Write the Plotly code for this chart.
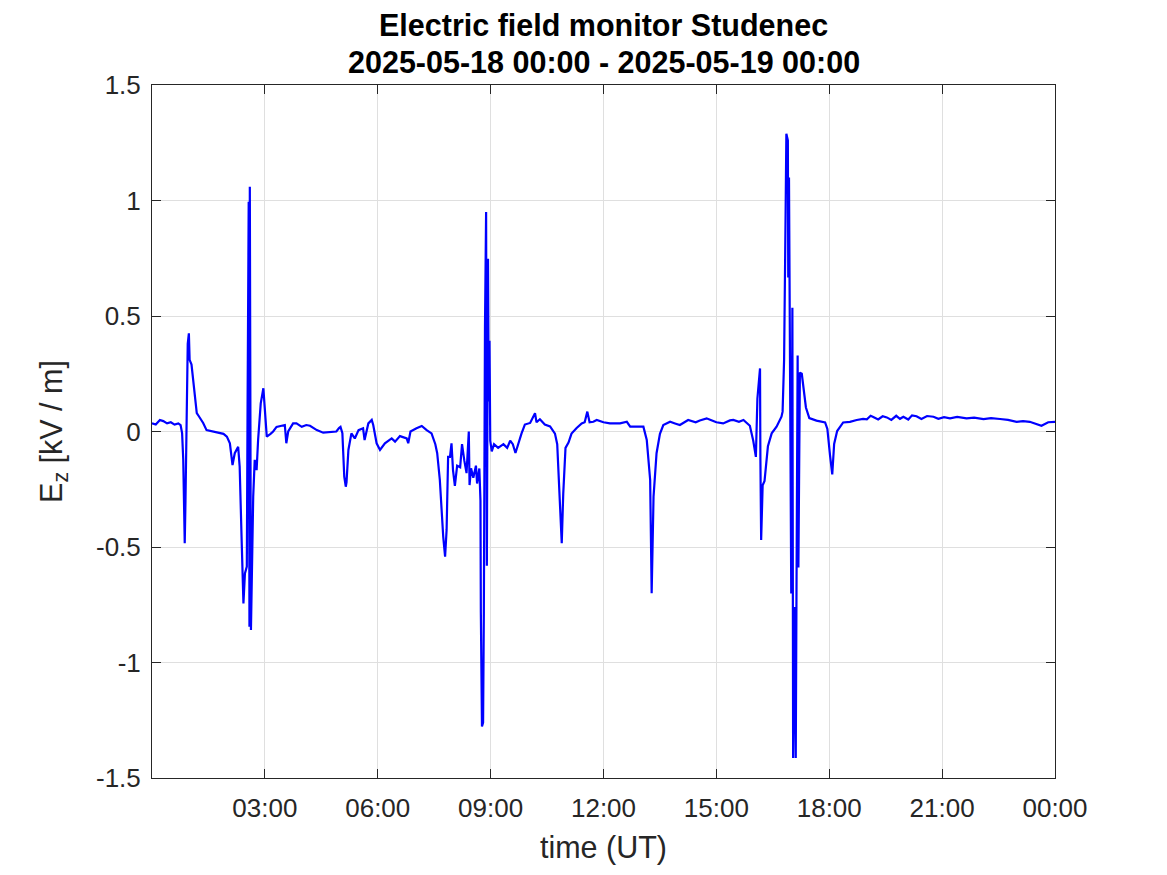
import pandas as pd
import plotly.graph_objects as go

# time since 2025-05-18 00:00 UT, hours
hours = [
    0.00, 0.10, 0.21, 0.30, 0.40, 0.50, 0.60, 0.70, 0.76, 0.80, 0.83, 0.87, 0.89, 0.92, 0.95, 0.98,
    1.00, 1.05, 1.10, 1.15, 1.19, 1.25, 1.36, 1.45, 1.60, 1.80, 1.90, 1.99, 2.07, 2.14, 2.20, 2.29,
    2.33, 2.38, 2.43, 2.47, 2.52, 2.54, 2.57, 2.59, 2.60, 2.63, 2.66, 2.69, 2.73, 2.78, 2.82, 2.89,
    2.96, 3.00, 3.05, 3.15, 3.22, 3.31, 3.45, 3.53, 3.57, 3.62, 3.75, 3.84, 3.98, 4.10, 4.20, 4.38,
    4.55, 4.75, 4.90, 4.97, 5.01, 5.06, 5.11, 5.15, 5.17, 5.22, 5.30, 5.39, 5.49, 5.61, 5.65, 5.75,
    5.84, 5.88, 5.97, 6.06, 6.19, 6.37, 6.46, 6.59, 6.77, 6.81, 6.87, 7.03, 7.17, 7.30, 7.43, 7.53,
    7.58, 7.65, 7.70, 7.74, 7.79, 7.83, 7.87, 7.92, 7.96, 8.00, 8.05, 8.11, 8.19, 8.24, 8.30, 8.36,
    8.42, 8.44, 8.48, 8.54, 8.61, 8.64, 8.70, 8.73, 8.74, 8.77, 8.80, 8.82, 8.85, 8.88, 8.90, 8.93,
    8.95, 8.97, 8.99, 9.03, 9.09, 9.20, 9.34, 9.44, 9.52, 9.59, 9.66, 9.73, 9.82, 9.91, 10.05, 10.18,
    10.22, 10.31, 10.44, 10.58, 10.71, 10.77, 10.82, 10.85, 10.89, 10.93, 10.99, 11.07, 11.15, 11.28,
    11.42, 11.50, 11.57, 11.63, 11.73, 11.82, 12.00, 12.17, 12.44, 12.62, 12.71, 12.90, 13.06, 13.15,
    13.24, 13.28, 13.33, 13.41, 13.50, 13.59, 13.77, 13.90, 14.03, 14.25, 14.45, 14.56, 14.74, 14.85,
    15.00, 15.18, 15.36, 15.45, 15.60, 15.72, 15.89, 15.98, 16.05, 16.09, 16.16, 16.17, 16.19, 16.23,
    16.28, 16.37, 16.47, 16.60, 16.65, 16.73, 16.76, 16.80, 16.84, 16.86, 16.90, 16.91, 16.93, 16.96,
    16.99, 17.02, 17.04, 17.07, 17.11, 17.13, 17.16, 17.18, 17.22, 17.27, 17.33, 17.38, 17.47, 17.66,
    17.89, 17.95, 18.02, 18.08, 18.13, 18.21, 18.37, 18.55, 18.73, 18.90, 19.00, 19.10, 19.17, 19.30,
    19.42, 19.53, 19.65, 19.78, 19.88, 19.97, 20.10, 20.20, 20.32, 20.45, 20.60, 20.77, 20.90, 21.05,
    21.21, 21.40, 21.65, 21.85, 22.10, 22.30, 22.54, 22.75, 22.98, 23.15, 23.33, 23.51, 23.64, 23.82,
    24.00,
]

# vertical electric field, kV/m
ez = [
    0.035, 0.030, 0.050, 0.045, 0.035, 0.040, 0.030, 0.035, 0.028, -0.007, -0.120, -0.484, -0.300, 0.158, 0.380, 0.425,
    0.310, 0.290, 0.223, 0.140, 0.080, 0.065, 0.037, 0.006, 0.000, -0.007, -0.010, -0.022, -0.051, -0.145, -0.094, -0.066,
    -0.152, -0.455, -0.744, -0.614, -0.585, 0.107, 0.995, -0.845, 1.060, -0.859, -0.556, -0.282, -0.123, -0.167, -0.037, 0.122,
    0.187, 0.093, -0.022, -0.010, 0.000, 0.020, 0.025, 0.028, -0.051, 0.000, 0.035, 0.035, 0.020, 0.028, 0.025, 0.006,
    -0.005, -0.002, 0.000, 0.015, 0.020, -0.007, -0.195, -0.239, -0.220, -0.080, -0.008, -0.030, 0.006, 0.014, -0.037, 0.035,
    0.050, 0.028, -0.051, -0.080, -0.051, -0.030, -0.044, -0.020, -0.030, -0.051, 0.000, 0.014, 0.024, 0.006, -0.008, -0.055,
    -0.094, -0.210, -0.354, -0.455, -0.542, -0.426, -0.110, -0.110, -0.051, -0.167, -0.235, -0.148, -0.155, -0.055, -0.125, -0.180,
    0.000, -0.232, -0.159, -0.200, -0.148, -0.225, -0.160, -0.300, -0.780, -1.277, -1.260, -0.780, 0.455, 0.950, -0.581, 0.748,
    0.130, 0.393, -0.040, -0.086, -0.055, -0.071, -0.055, -0.071, -0.040, -0.055, -0.093, -0.055, -0.009, 0.030, 0.037, 0.079,
    0.040, 0.053, 0.030, 0.022, -0.009, -0.055, -0.225, -0.380, -0.484, -0.270, -0.071, -0.048, -0.009, 0.014,
    0.035, 0.040, 0.086, 0.040, 0.042, 0.050, 0.040, 0.035, 0.035, 0.042, 0.021, 0.021, 0.021, -0.037,
    -0.210, -0.700, -0.282, -0.094, -0.010, 0.028, 0.042, 0.035, 0.028, 0.050, 0.040, 0.048, 0.057, 0.050,
    0.040, 0.035, 0.048, 0.050, 0.042, 0.050, 0.025, -0.040, -0.110, 0.142, 0.273, -0.120, -0.470, -0.233,
    -0.214, -0.064, -0.008, 0.021, 0.039, 0.064, 0.086, 0.311, 0.948, 1.289, 1.260, 0.667, 1.100, -0.006,
    -0.701, 0.536, -1.413, -0.760, -1.413, -0.664, 0.329, -0.589, 0.255, 0.250, 0.160, 0.104, 0.058, 0.047,
    0.039, 0.011, -0.102, -0.186, -0.054, 0.002, 0.039, 0.042, 0.050, 0.055, 0.053, 0.068, 0.063, 0.052,
    0.066, 0.061, 0.050, 0.068, 0.055, 0.064, 0.052, 0.070, 0.066, 0.054, 0.067, 0.064, 0.055, 0.062,
    0.057, 0.063, 0.057, 0.060, 0.054, 0.058, 0.054, 0.050, 0.042, 0.045, 0.042, 0.032, 0.025, 0.040,
    0.042,
]

y_tick_vals = [-1.5, -1, -0.5, 0, 0.5, 1, 1.5]
y_tick_text = ["-1.5", "-1", "-0.5", "0", "0.5", "1", "1.5"]
x_tick_hours = [3, 6, 9, 12, 15, 18, 21, 24]
x_tick_text = ["03:00", "06:00", "09:00", "12:00", "15:00", "18:00", "21:00", "00:00"]
title_lines = ["Electric field monitor Studenec", "2025-05-18 00:00 - 2025-05-19 00:00"]

t0 = pd.Timestamp("2025-05-18 00:00")
times = [t0 + pd.Timedelta(hours=h) for h in hours]
x_tick_vals = [t0 + pd.Timedelta(hours=h) for h in x_tick_hours]

FONT = "Liberation Sans, Arial, Helvetica, sans-serif"
AXC = "#262626"

fig = go.Figure()
fig.add_trace(go.Scatter(
    x=times, y=ez, mode="lines",
    line=dict(color="#0000FF", width=2.2),
    showlegend=False,
))

# page body has an 8px margin: figure spans 8..1167 horizontally, 8..867 vertically
fig.update_layout(
    width=1159, height=859,
    paper_bgcolor="white", plot_bgcolor="white",
    margin=dict(l=144, r=112, t=77, b=89),
    font=dict(family=FONT, color=AXC),
)

for line, shift in zip(title_lines, [60, 23]):
    fig.add_annotation(
        text="<b>" + line + "</b>", xref="paper", yref="paper", x=0.5, y=1,
        xanchor="center", yanchor="middle", yshift=shift, showarrow=False,
        borderpad=0,
        font=dict(family=FONT, size=30.5, color="black"),
    )

fig.update_xaxes(
    type="date",
    range=[t0, t0 + pd.Timedelta(hours=24)],
    tickvals=x_tick_vals, ticktext=x_tick_text,
    ticks="inside", ticklen=9, tickcolor=AXC, tickwidth=1,
    showline=True, linecolor=AXC, linewidth=1, mirror="ticks",
    showgrid=True, gridcolor="#dfdfdf", gridwidth=1,
    zeroline=False, automargin=False,
    ticklabelstandoff=7,
    tickfont=dict(family=FONT, size=26, color=AXC),
    title=dict(text="time (UT)", font=dict(family=FONT, size=30.5, color=AXC), standoff=14),
)

fig.update_yaxes(
    range=[-1.5, 1.5],
    tickvals=y_tick_vals, ticktext=y_tick_text,
    ticks="inside", ticklen=9, tickcolor=AXC, tickwidth=1,
    showline=True, linecolor=AXC, linewidth=1, mirror="ticks",
    showgrid=True, gridcolor="#dfdfdf", gridwidth=1,
    zeroline=False, automargin=False,
    ticklabelstandoff=5,
    tickfont=dict(family=FONT, size=26, color=AXC),
    title=dict(text="E<sub>z</sub> [kV / m]", font=dict(family=FONT, size=30.5, color=AXC), standoff=24),
)

fig.write_html("out.html")
